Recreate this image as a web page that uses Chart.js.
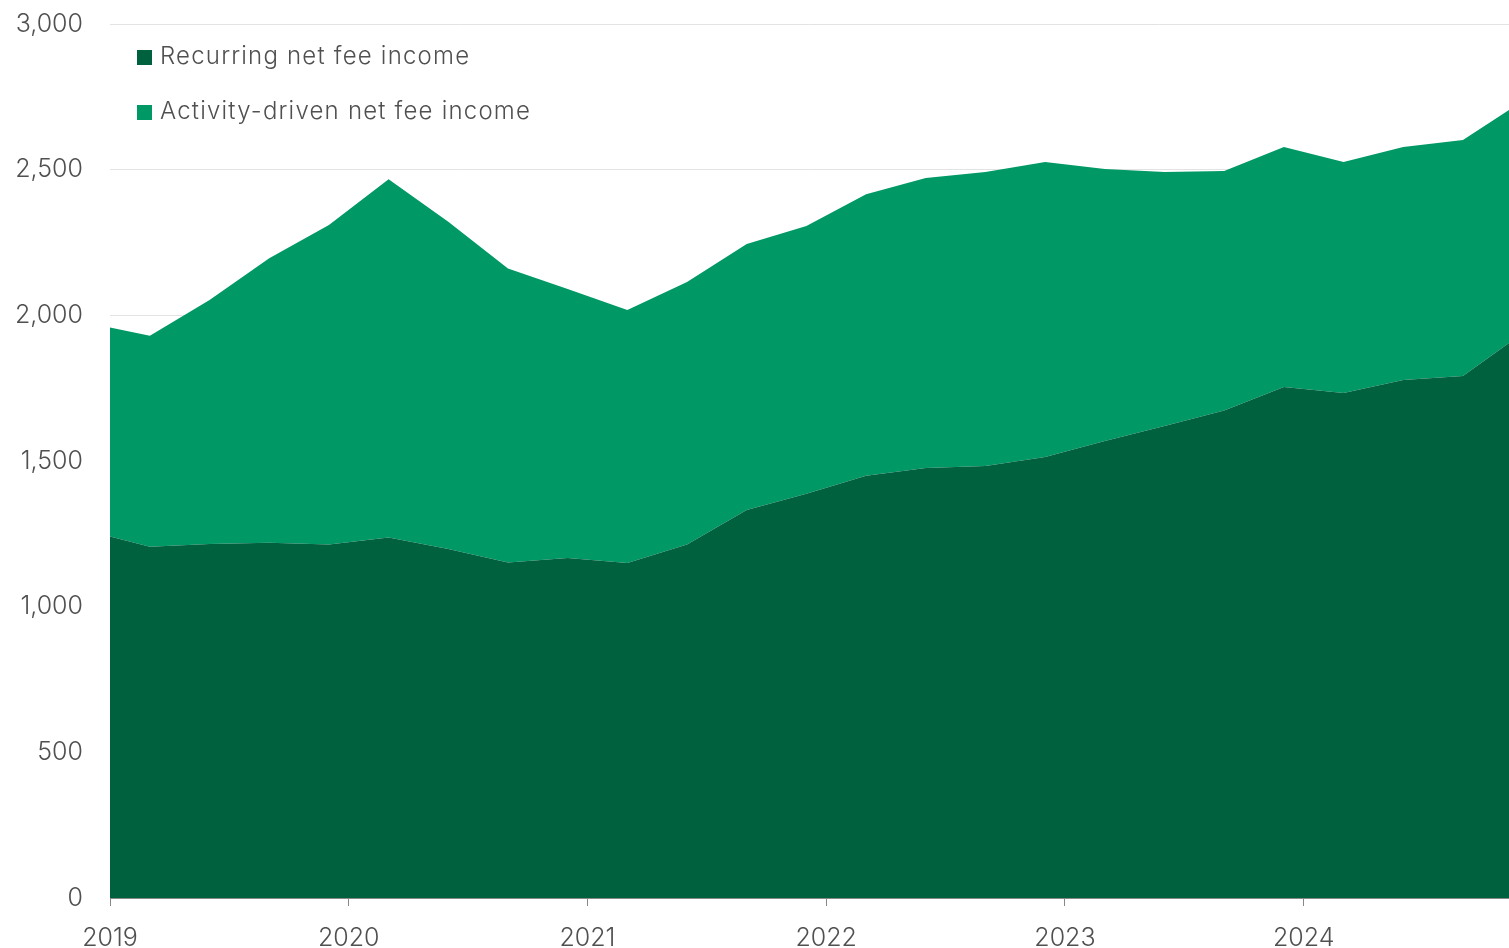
<!DOCTYPE html>
<html>
<head>
<meta charset="utf-8">
<title>Net fee income</title>
<script src="https://cdn.jsdelivr.net/npm/chart.js@4/dist/chart.umd.min.js"></script>
<style>
  body { margin: 0; background: #fff; }
  #wrap { position: relative; width: 1509px; height: 948px; }
  #legend { position: absolute; left: 137px; top: 34px; font-family: Inter, sans-serif; font-weight: 300; font-size: 24px; letter-spacing: 1.2px; color: #505050; }
  #legend div { height: 55px; line-height: 44px; white-space: nowrap; }
  #legend span.sw { display: inline-block; width: 15px; height: 15px; margin-right: 8px; vertical-align: -1px; }
</style>
</head>
<body>
<div id="wrap">
  <canvas id="fees"></canvas>
  <div id="legend"></div>
</div>
<script>
// quarterly points, x as decimal years
const periodX = [2019.0, 2019.167, 2019.417, 2019.667, 2019.917,
  2020.167, 2020.417, 2020.667, 2020.917,
  2021.167, 2021.417, 2021.667, 2021.917,
  2022.167, 2022.417, 2022.667, 2022.917,
  2023.167, 2023.417, 2023.667, 2023.917,
  2024.167, 2024.417, 2024.667, 2024.86];

const recurring = [1241, 1206, 1215, 1219, 1213,
  1237, 1198, 1152, 1167,
  1150, 1213, 1332, 1388,
  1449, 1476, 1483, 1514,
  1569, 1620, 1673, 1754,
  1733, 1778, 1792, 1905];

const activityDriven = [717, 724, 838, 977, 1097,
  1230, 1123, 1009, 923,
  868, 901, 913, 919,
  967, 995, 1009, 1012,
  933, 872, 822, 824,
  793, 800, 810, 800];

const seriesNames = ['Recurring net fee income', 'Activity-driven net fee income'];
const seriesColors = ['#00613f', '#009966'];
const yearTicks = [2019, 2020, 2021, 2022, 2023, 2024];

const toPoints = vals => vals.map((v, i) => ({ x: periodX[i], y: v }));

const tickFont = { family: 'Inter, sans-serif', size: 25, weight: 300 };

new Chart(document.getElementById('fees'), {
  type: 'line',
  data: {
    datasets: [
      {
        label: seriesNames[0],
        data: toPoints(recurring),
        backgroundColor: seriesColors[0],
        borderWidth: 0,
        pointRadius: 0,
        fill: 'origin'
      },
      {
        label: seriesNames[1],
        data: toPoints(activityDriven),
        backgroundColor: seriesColors[1],
        borderWidth: 0,
        pointRadius: 0,
        fill: '-1'
      }
    ]
  },
  options: {
    responsive: true,
    maintainAspectRatio: false,
    animation: false,
    layout: { padding: { top: 24, right: 0, left: 0, bottom: 0 } },
    plugins: { legend: { display: false }, tooltip: { enabled: false } },
    scales: {
      x: {
        type: 'linear',
        min: periodX[0],
        max: periodX[periodX.length - 1],
        afterFit: s => { s.height = 50; s.paddingLeft = 0; s.paddingRight = 0; },
        afterBuildTicks: s => { s.ticks = yearTicks.map(v => ({ value: v })); },
        ticks: {
          includeBounds: false,
          padding: 17,
          color: '#505050',
          font: tickFont,
          maxRotation: 0,
          callback: v => String(v)
        },
        grid: { drawOnChartArea: false, drawTicks: true, tickLength: 8, color: '#888' },
        border: { display: true, color: '#888', width: 1 }
      },
      y: {
        stacked: true,
        min: 0,
        max: 3000,
        afterFit: s => { s.width = 110; s.paddingTop = 0; s.paddingBottom = 0; },
        ticks: {
          stepSize: 500,
          padding: 27,
          color: '#505050',
          font: tickFont,
          callback: v => v.toLocaleString('en-US')
        },
        grid: { color: '#e3e3e3', drawTicks: false },
        border: { display: false }
      }
    }
  }
});

// legend in the upper-left corner of the plot
const legend = document.getElementById('legend');
seriesNames.forEach((name, i) => {
  const row = document.createElement('div');
  const sw = document.createElement('span');
  sw.className = 'sw';
  sw.style.background = seriesColors[i];
  row.appendChild(sw);
  row.appendChild(document.createTextNode(name));
  legend.appendChild(row);
});
</script>
</body>
</html>
